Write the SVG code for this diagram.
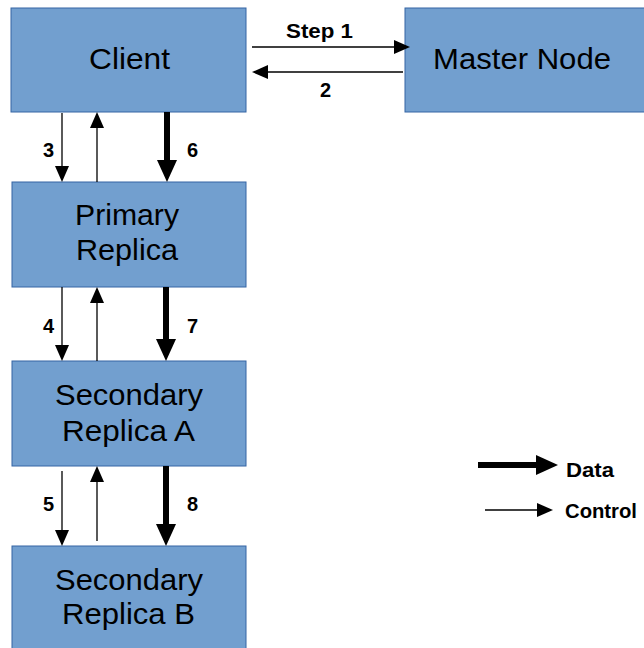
<svg xmlns="http://www.w3.org/2000/svg" width="644" height="648" viewBox="0 0 644 648">
<defs>
<style>
.box{fill:#729fcf;stroke:#3465a4;stroke-width:1}
.bt{font-family:"Liberation Sans",Arial,sans-serif;font-size:29px;fill:#000;text-anchor:middle}
.lb{font-family:"Liberation Sans",Arial,sans-serif;font-size:20px;font-weight:bold;fill:#000}
.thin{stroke:#000;stroke-width:1.3;fill:none;marker-end:url(#ah)}
.thick{stroke:#000;stroke-width:6;fill:none;marker-end:url(#ahT)}
</style>
<marker id="ah" markerUnits="userSpaceOnUse" markerWidth="16" markerHeight="14" refX="2" refY="7" orient="auto" viewBox="0 0 16 14">
<path d="M0,0 L16,7 L0,14 z" fill="#000"/>
</marker>
<marker id="ahT" markerUnits="userSpaceOnUse" markerWidth="22" markerHeight="20" refX="2" refY="10" orient="auto" viewBox="0 0 22 20">
<path d="M0,0 L22,10 L0,20 z" fill="#000"/>
</marker>
</defs>
<rect width="644" height="648" fill="#fff"/>
<g id="client"><rect class="box" x="11" y="8" width="235" height="104"/><text class="bt" x="129.5" y="69" textLength="81" lengthAdjust="spacingAndGlyphs">Client</text></g>
<g id="master"><rect class="box" x="405" y="8" width="240" height="104"/><text class="bt" x="522" y="69" textLength="178" lengthAdjust="spacingAndGlyphs">Master Node</text></g>
<g id="primary"><rect class="box" x="12" y="182" width="234" height="105"/><text class="bt" x="127" y="225" textLength="104" lengthAdjust="spacingAndGlyphs">Primary</text><text class="bt" x="127" y="260" textLength="102" lengthAdjust="spacingAndGlyphs">Replica</text></g>
<g id="secA"><rect class="box" x="12" y="361" width="234" height="105"/><text class="bt" x="129" y="405" textLength="148" lengthAdjust="spacingAndGlyphs">Secondary</text><text class="bt" x="128.5" y="441" textLength="133" lengthAdjust="spacingAndGlyphs">Replica A</text></g>
<g id="secB"><rect class="box" x="12" y="546" width="234" height="110"/><text class="bt" x="129" y="590" textLength="148" lengthAdjust="spacingAndGlyphs">Secondary</text><text class="bt" x="128.5" y="624" textLength="133" lengthAdjust="spacingAndGlyphs">Replica B</text></g>
<g id="connectors">
<line class="thin" x1="252" y1="47" x2="396" y2="47"/>
<line class="thin" x1="403" y1="72" x2="266" y2="72"/>
<line class="thin" x1="62" y1="113" x2="62" y2="168"/>
<line class="thin" x1="97" y1="182" x2="97" y2="126"/>
<line class="thick" x1="167" y1="112" x2="167" y2="162"/>
<line class="thin" x1="62" y1="287" x2="62" y2="347"/>
<line class="thin" x1="97" y1="361" x2="97" y2="301"/>
<line class="thick" x1="166" y1="287" x2="166" y2="341"/>
<line class="thin" x1="62" y1="471" x2="62" y2="532"/>
<line class="thin" x1="97" y1="541" x2="97" y2="480"/>
<line class="thick" x1="166" y1="466" x2="166" y2="526"/>
<line class="thick" x1="478" y1="465" x2="538" y2="465"/>
<line class="thin" x1="485" y1="510" x2="539" y2="510"/>
<text class="lb" x="286" y="38" textLength="67" lengthAdjust="spacingAndGlyphs">Step 1</text>
<text class="lb" x="320" y="97">2</text>
<text class="lb" x="43" y="157">3</text>
<text class="lb" x="187" y="157">6</text>
<text class="lb" x="43" y="333">4</text>
<text class="lb" x="187" y="333">7</text>
<text class="lb" x="43" y="511">5</text>
<text class="lb" x="187" y="511">8</text>
<text class="lb" x="566" y="477" font-size="21" textLength="48" lengthAdjust="spacingAndGlyphs">Data</text>
<text class="lb" x="565" y="518" textLength="72" lengthAdjust="spacingAndGlyphs">Control</text>
</g>
</svg>
